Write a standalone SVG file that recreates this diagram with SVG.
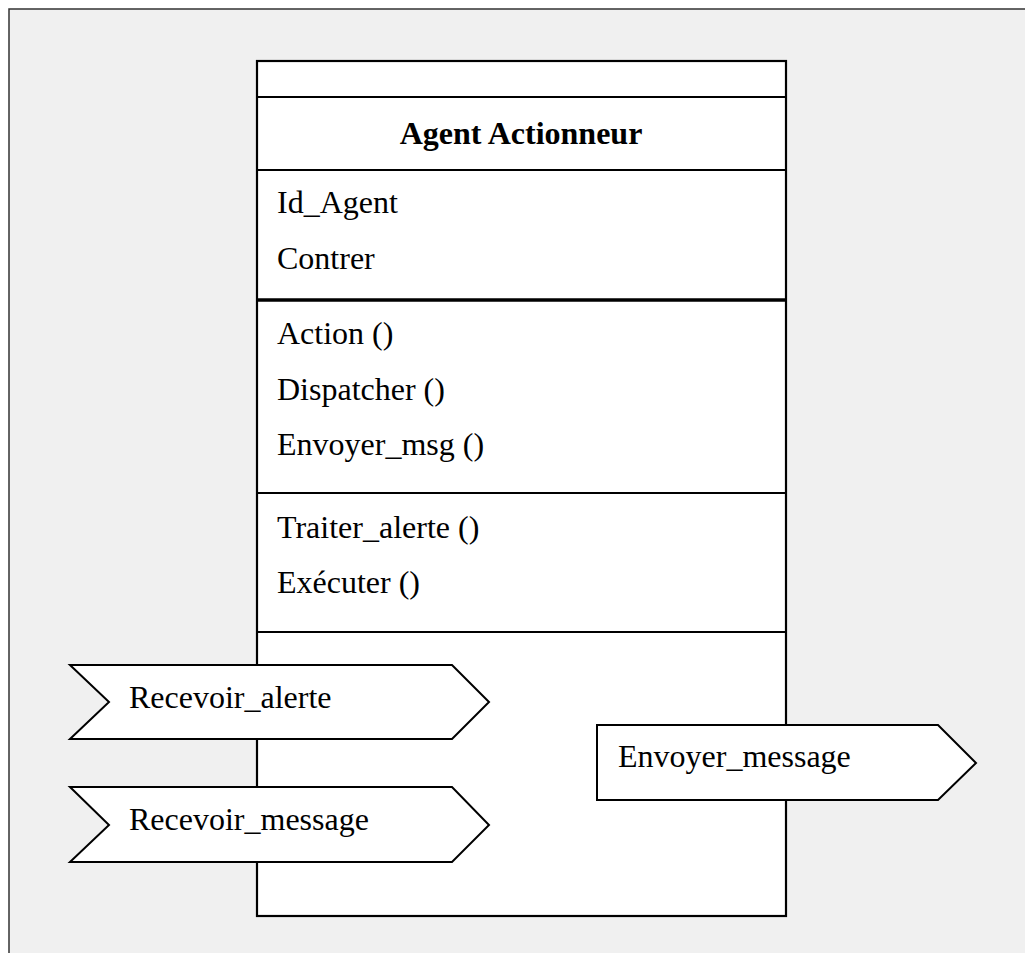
<svg xmlns="http://www.w3.org/2000/svg" width="1025" height="953" viewBox="0 0 1025 953">
  <style>
    .frame { fill: #f0f0f0; stroke: #333333; stroke-width: 1.5; }
    .box { fill: #ffffff; stroke: #000000; stroke-width: 2.2; }
    .sep { stroke: #000000; stroke-width: 2.2; }
    .sep-thick { stroke: #000000; stroke-width: 3.5; }
    .port { fill: #ffffff; stroke: #000000; stroke-width: 2; stroke-linejoin: miter; }
    .txt { font-family: "Liberation Serif", "Times New Roman", serif; font-size: 32px; fill: #000000; }
    .title { font-weight: bold; text-anchor: middle; }
  </style>
  <rect width="1025" height="953" fill="#ffffff"/>
  <rect class="frame" x="9" y="9" width="1030" height="960"/>

  <g id="agent-actionneur">
    <rect class="box" x="257" y="61" width="529" height="855"/>
    <line class="sep" x1="257" y1="97" x2="786" y2="97"/>
    <line class="sep" x1="257" y1="170" x2="786" y2="170"/>
    <line class="sep-thick" x1="257" y1="300" x2="786" y2="300"/>
    <line class="sep" x1="257" y1="493" x2="786" y2="493"/>
    <line class="sep" x1="257" y1="632" x2="786" y2="632"/>
    <text class="txt title" x="521" y="144">Agent Actionneur</text>
    <text class="txt" x="277" y="213">Id_Agent</text>
    <text class="txt" x="277" y="269">Contrer</text>
    <text class="txt" x="277" y="344">Action ()</text>
    <text class="txt" x="277" y="400">Dispatcher ()</text>
    <text class="txt" x="277" y="455">Envoyer_msg ()</text>
    <text class="txt" x="277" y="538">Traiter_alerte ()</text>
    <text class="txt" x="277" y="593">Exécuter ()</text>
  </g>

  <g id="recevoir-alerte">
    <polygon class="port" points="70,665 109,702 70,739 452,739 489,702 452,665"/>
    <text class="txt" x="129" y="708">Recevoir_alerte</text>
  </g>

  <g id="recevoir-message">
    <polygon class="port" points="70,787 109,825 70,862 452,862 489,825 452,787"/>
    <text class="txt" x="129" y="830">Recevoir_message</text>
  </g>

  <g id="envoyer-message">
    <polygon class="port" points="597,725 938,725 976,763 938,800 597,800"/>
    <text class="txt" x="618" y="767">Envoyer_message</text>
  </g>

  <g id="connectors"/>
</svg>
